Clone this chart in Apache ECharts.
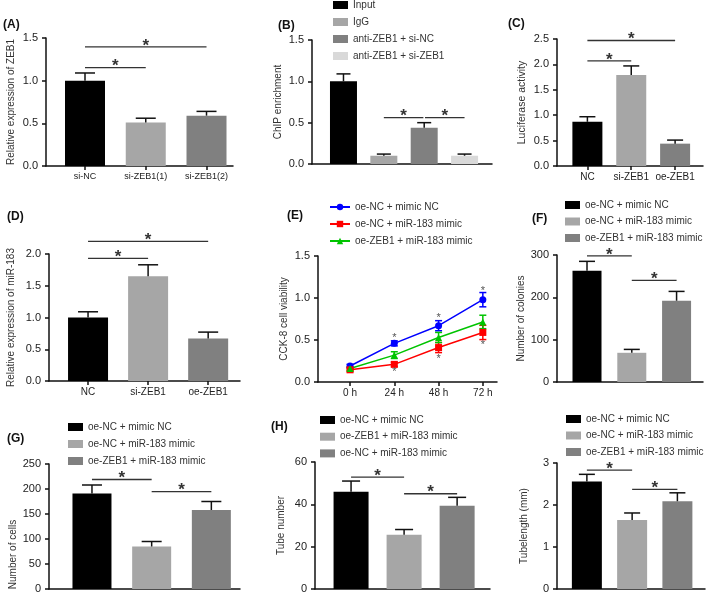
<!DOCTYPE html>
<html><head><meta charset="utf-8">
<script src="https://cdn.jsdelivr.net/npm/echarts@6/dist/echarts.min.js"></script>
<style>html,body{margin:0;padding:0;background:#fff}#c{width:709px;height:596px}</style>
</head><body><div id="c"></div>
<script>
// ---------------- DATA ----------------
const catA = ['si-NC', 'si-ZEB1(1)', 'si-ZEB1(2)'];
const valA = [1.0, 0.51, 0.59];
const errA = [0.09, 0.05, 0.05];
const sigA = [[0, 2, 1.395], [0, 1, 1.152]];
const ticksA = [0, 0.5, 1.0, 1.5];

const grpB = ['Input', 'IgG', 'anti-ZEB1 + si-NC', 'anti-ZEB1 + si-ZEB1'];
const valB = [1.0, 0.1, 0.44, 0.1];
const errB = [0.09, 0.02, 0.06, 0.02];
const sigB = [[1, 1.98, 0.56], [2.02, 3, 0.56]];
const ticksB = [0, 0.5, 1.0, 1.5];

const catC = ['NC', 'si-ZEB1', 'oe-ZEB1'];
const valC = [0.87, 1.79, 0.44];
const errC = [0.1, 0.18, 0.07];
const sigC = [[0, 2, 2.47], [0, 1, 2.07]];
const ticksC = [0, 0.5, 1.0, 1.5, 2.0, 2.5];

const catD = ['NC', 'si-ZEB1', 'oe-ZEB1'];
const valD = [1.0, 1.65, 0.67];
const errD = [0.09, 0.18, 0.1];
const sigD = [[0, 2, 2.2], [0, 1, 1.93]];
const ticksD = [0, 0.5, 1.0, 1.5, 2.0];

const timeE = ['0 h', '24 h', '48 h', '72 h'];
const serE = ['oe-NC + mimic NC', 'oe-NC + miR-183 mimic', 'oe-ZEB1 + miR-183 mimic'];
const blueE = [0.19, 0.46, 0.67, 0.98];
const blueErrE = [0.02, 0.03, 0.06, 0.085];
const redE = [0.145, 0.21, 0.41, 0.59];
const redErrE = [0.02, 0.025, 0.06, 0.085];
const greenE = [0.16, 0.32, 0.53, 0.715];
const greenErrE = [0.02, 0.04, 0.06, 0.08];
const starE = [[1, 0.527], [2, 0.76], [3, 1.08], [1, 0.12], [2, 0.28], [3, 0.44]];
const ticksE = [0, 0.5, 1.0, 1.5];

const grpF = ['oe-NC + mimic NC', 'oe-NC + miR-183 mimic', 'oe-ZEB1 + miR-183 mimic'];
const valF = [263, 69, 192];
const errF = [22, 8, 22];
const sigF = [[0, 1, 298], [1, 2, 240]];
const ticksF = [0, 100, 200, 300];

const grpG = ['oe-NC + mimic NC', 'oe-NC + miR-183 mimic', 'oe-ZEB1 + miR-183 mimic'];
const valG = [191, 85, 158];
const errG = [17, 10, 17];
const sigG = [[0, 1, 219], [1, 2, 194.6]];
const ticksG = [0, 50, 100, 150, 200, 250];

const grpH = ['oe-NC + mimic NC', 'oe-ZEB1 + miR-183 mimic', 'oe-NC + miR-183 mimic'];
const valH = [46, 25.6, 39.3];
const errH = [5, 2.5, 4];
const sigH = [[0, 1, 52.9], [1, 2, 45]];
const ticksH = [0, 20, 40, 60];

const grpI = ['oe-NC + mimic NC', 'oe-NC + miR-183 mimic', 'oe-ZEB1 + miR-183 mimic'];
const valI = [2.56, 1.64, 2.09];
const errI = [0.17, 0.17, 0.2];
const sigI = [[0, 1, 2.83], [1, 2, 2.37]];
const ticksI = [0, 1, 2, 3];

// ---------------- STYLE / LAYOUT ----------------
const FONT = '"Liberation Sans", Arial, Helvetica, sans-serif';
const BLACK = '#000000', LIGHT = '#a6a6a6', DARK = '#808080', PALE = '#d9d9d9';
const AX = '#111111', TXT = '#222222';

const option = { animation: false, backgroundColor: '#ffffff',
  title: [], legend: [], grid: [], xAxis: [], yAxis: [], series: [] };

function errRender(capW, color, both) {
  return function (params, api) {
    const x = api.value(0), y = api.value(1), e = api.value(2);
    const top = api.coord([x, y + e]);
    const bot = api.coord([x, both ? y - e : y]);
    const st = { stroke: color, lineWidth: 1.5 };
    const ch = [
      { type: 'line', shape: { x1: top[0], y1: top[1], x2: bot[0], y2: bot[1] }, style: st },
      { type: 'line', shape: { x1: top[0] - capW / 2, y1: top[1], x2: top[0] + capW / 2, y2: top[1] }, style: st }
    ];
    if (both) ch.push({ type: 'line', shape: { x1: bot[0] - capW / 2, y1: bot[1], x2: bot[0] + capW / 2, y2: bot[1] }, style: st });
    return { type: 'group', children: ch };
  };
}
function sigRender(params, api) {
  const a = api.coord([api.value(0), api.value(2)]);
  const b = api.coord([api.value(1), api.value(2)]);
  return { type: 'group', children: [
    { type: 'line', shape: { x1: a[0], y1: a[1], x2: b[0], y2: b[1] }, style: { stroke: '#333', lineWidth: 1.3 } },
    { type: 'text', x: (a[0] + b[0]) / 2, y: a[1] - 1,
      style: { text: '*', font: 'bold 17px ' + FONT, fill: '#333', align: 'center', verticalAlign: 'middle' } }
  ] };
}
function starRender(params, api) {
  const p = api.coord([api.value(0), api.value(1)]);
  return { type: 'text', x: p[0], y: p[1],
    style: { text: '*', font: '11px ' + FONT, fill: '#555', align: 'center', verticalAlign: 'middle' } };
}

function addAxes(p) {
  const gi = option.grid.length;
  option.grid.push({ left: p.left, top: p.top, width: p.width, height: p.height });
  const catTicks = p.cats ? p.cats.map((c, i) => i) : [];
  option.xAxis.push({ type: 'value', gridIndex: gi, min: p.xmin, max: p.xmax,
    axisLine: { show: true, onZero: false, lineStyle: { color: AX, width: 1.5 } },
    axisTick: { show: !!p.cats, length: 4, customValues: catTicks, lineStyle: { color: AX, width: 1.5 } },
    axisLabel: { show: !!p.cats, customValues: catTicks, margin: 6,
      formatter: v => p.cats ? p.cats[Math.round(v)] : '',
      fontSize: p.catSize || 10, fontFamily: FONT, color: TXT },
    splitLine: { show: false } });
  option.yAxis.push({ type: 'value', gridIndex: gi, min: p.ticks[0], max: p.ticks[p.ticks.length - 1],
    interval: p.ticks[1] - p.ticks[0],
    name: p.yname, nameLocation: 'middle', nameGap: p.nameGap, nameRotate: 90,
    nameTextStyle: { fontSize: p.nameSize || 10, fontFamily: FONT, color: '#333',
      padding: p.namePad || 0 },
    axisLine: { show: true, onZero: false, lineStyle: { color: AX, width: 1.5 } },
    axisTick: { show: true, length: 4, lineStyle: { color: AX, width: 1.5 } },
    axisLabel: { margin: 8, fontSize: 11, fontFamily: FONT, color: TXT,
      formatter: v => v.toFixed(p.dec) },
    splitLine: { show: false } });
  if (p.label) option.title.push({ text: p.label, left: p.lx, top: p.ly, padding: 0,
    textStyle: { fontSize: 12, fontWeight: 'bold', fontFamily: FONT, color: '#111' } });
  return gi;
}

function addBarPanel(p) {
  const gi = addAxes(p);
  const names = p.names || p.cats;
  p.vals.forEach((v, i) => {
    option.series.push({ type: 'bar', name: names[i], xAxisIndex: gi, yAxisIndex: gi,
      data: [[i, v]], barWidth: p.bw, barGap: '-100%',
      itemStyle: { color: p.colors[i] }, z: 2 });
  });
  option.series.push({ type: 'custom', xAxisIndex: gi, yAxisIndex: gi, clip: false, z: 3,
    renderItem: errRender(p.cap, '#111', false),
    data: p.vals.map((v, i) => [i, v, p.errs[i]]) });
  option.series.push({ type: 'custom', xAxisIndex: gi, yAxisIndex: gi, clip: false, z: 3,
    renderItem: sigRender, data: p.sig });
  if (p.names) {
    option.legend.push({ orient: 'vertical', left: p.legLeft, top: p.legTop, padding: 0,
      itemGap: p.legGap, itemWidth: 15, itemHeight: 8, selectedMode: false,
      textStyle: { fontSize: 10, fontFamily: FONT, color: '#333', lineHeight: 12 },
      data: p.names.map((n, i) => ({ name: n, icon: 'rect', itemStyle: { color: p.colors[i], borderWidth: 0 } })) });
  }
}

// Panel A
addBarPanel({ label: '(A)', lx: 3, ly: 19, left: 46, top: 38, width: 187, height: 128,
  xmin: -0.642, xmax: 2.436, cats: catA, catSize: 9, vals: valA, errs: errA, sig: sigA, ticks: ticksA, dec: 1,
  yname: 'Relative expression of ZEB1', nameGap: 30, bw: 40, cap: 20, colors: [BLACK, LIGHT, DARK] });
// Panel B
addBarPanel({ label: '(B)', lx: 278, ly: 20, left: 312, top: 40, width: 180, height: 124,
  xmin: -0.78, xmax: 3.68, vals: valB, errs: errB, sig: sigB, ticks: ticksB, dec: 1, names: grpB,
  yname: 'ChIP enrichment', nameGap: 29, bw: 27, cap: 14, colors: [BLACK, LIGHT, DARK, PALE],
  legLeft: 333, legTop: -1, legGap: 5 });
// Panel C
addBarPanel({ label: '(C)', lx: 508, ly: 18, left: 557, top: 39, width: 146, height: 127,
  xmin: -0.693, xmax: 2.636, cats: catC, vals: valC, errs: errC, sig: sigC, ticks: ticksC, dec: 1,
  yname: 'Luciferase activity', nameGap: 29, nameSize: 10.5, bw: 30, cap: 16, colors: [BLACK, LIGHT, DARK] });
// Panel D
addBarPanel({ label: '(D)', lx: 7, ly: 211, left: 49, top: 254, width: 191, height: 127,
  xmin: -0.65, xmax: 2.53, cats: catD, vals: valD, errs: errD, sig: sigD, ticks: ticksD, dec: 1,
  yname: 'Relative expression of miR-183', nameGap: 33, bw: 40, cap: 20, colors: [BLACK, LIGHT, DARK] });

// Panel E (line chart)
(function () {
  const p = { label: '(E)', lx: 287, ly: 210, left: 318, top: 256, width: 179, height: 126,
    xmin: -0.724, xmax: 3.32, cats: timeE, ticks: ticksE, dec: 1,
    yname: 'CCK-8 cell viability', nameGap: 29 };
  const gi = addAxes(p);
  const cols = ['#0000ff', '#ff0000', '#00c400'];
  const syms = ['circle', 'rect', 'triangle'];
  const vals = [blueE, redE, greenE];
  const errs = [blueErrE, redErrE, greenErrE];
  vals.forEach((arr, k) => {
    option.series.push({ type: 'line', name: serE[k], xAxisIndex: gi, yAxisIndex: gi,
      data: arr.map((v, i) => [i, v]), symbol: syms[k], symbolSize: 7, showAllSymbol: true,
      lineStyle: { color: cols[k], width: 1.5 }, itemStyle: { color: cols[k] }, z: 3 });
    option.series.push({ type: 'custom', xAxisIndex: gi, yAxisIndex: gi, clip: false, z: 2,
      renderItem: errRender(7, cols[k], true), data: arr.map((v, i) => [i, v, errs[k][i]]) });
  });
  option.series.push({ type: 'custom', xAxisIndex: gi, yAxisIndex: gi, clip: false, z: 4,
    renderItem: starRender, data: starE });
  option.legend.push({ orient: 'vertical', left: 329, top: 201, padding: 0, itemGap: 5,
    itemWidth: 20, itemHeight: 8, selectedMode: false,
    textStyle: { fontSize: 10, fontFamily: FONT, color: '#333', lineHeight: 12 },
    data: serE.map(n => ({ name: n })) });
})();

// Panel F
addBarPanel({ label: '(F)', lx: 532, ly: 213, left: 557, top: 255, width: 146, height: 127,
  xmin: -0.67, xmax: 2.59, vals: valF, errs: errF, sig: sigF, ticks: ticksF, dec: 0, names: grpF,
  yname: 'Number of colonies', nameGap: 30, bw: 29, cap: 16, colors: [BLACK, LIGHT, DARK],
  legLeft: 565, legTop: 199, legGap: 4.5 });
// Panel G
addBarPanel({ label: '(G)', lx: 7, ly: 433, left: 49, top: 464, width: 191, height: 125,
  xmin: -0.72, xmax: 2.48, vals: valG, errs: errG, sig: sigG, ticks: ticksG, dec: 0, names: grpG,
  yname: 'Number of cells', nameGap: 30, namePad: [0, 56, 0, 0], bw: 39, cap: 20, colors: [BLACK, LIGHT, DARK],
  legLeft: 68, legTop: 421, legGap: 5 });
// Panel H
addBarPanel({ label: '(H)', lx: 271, ly: 421, left: 315, top: 462, width: 175, height: 127,
  xmin: -0.68, xmax: 2.62, vals: valH, errs: errH, sig: sigH, ticks: ticksH, dec: 0, names: grpH,
  yname: 'Tube number', nameGap: 29, bw: 35, cap: 18, colors: [BLACK, LIGHT, DARK],
  legLeft: 320, legTop: 414, legGap: 4.7 });
// Panel I
addBarPanel({ label: '', lx: 0, ly: 0, left: 557, top: 463, width: 148, height: 126,
  xmin: -0.66, xmax: 2.61, vals: valI, errs: errI, sig: sigI, ticks: ticksI, dec: 0, names: grpI,
  yname: 'Tubelength (mm)', nameGap: 28, bw: 30, cap: 16, colors: [BLACK, LIGHT, DARK],
  legLeft: 566, legTop: 413, legGap: 4.5 });

const chart = echarts.init(document.getElementById('c'), null, { renderer: 'canvas' });
chart.setOption(option);
</script></body></html>
